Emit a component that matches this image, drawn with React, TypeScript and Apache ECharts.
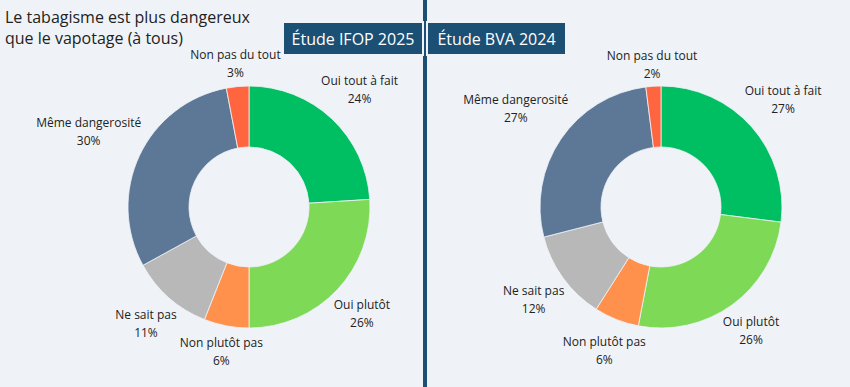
import React, { useEffect, useRef } from 'react';
import * as echarts from 'echarts';

const categories = ['Oui tout à fait', 'Oui plutôt', 'Non plutôt pas', 'Ne sait pas', 'Même dangerosité', 'Non pas du tout'];
const ifop2025 = [24, 26, 6, 11, 30, 3];
const bva2024 = [27, 26, 6, 12, 27, 2];
const sliceColors = ['#00bf63', '#7ed957', '#ff914d', '#b8b8b8', '#5d7896', '#ff6640'];
const studyTitles = ['Étude IFOP 2025', 'Étude BVA 2024'];
const chartTitle = 'Le tabagisme est plus dangereux\nque le vapotage (à tous)';

const BG = '#eff3f8';
const NAVY = '#1c4f74';
const FONT = '"Open Sans", "Noto Sans", sans-serif';

const labelLayout = (p: any) => {
  const pts = p.labelLinePoints;
  if (!pts || pts.length < 2) return {};
  const [x0, y0] = pts[0];
  const [x1, y1] = pts[1];
  let dx = x1 - x0;
  let dy = y1 - y0;
  const len = Math.hypot(dx, dy) || 1;
  dx /= len;
  dy /= len;
  const hw = p.labelRect.width / 2;
  const hh = p.labelRect.height / 2;
  const d = 1 + hw * Math.abs(dx) + hh * Math.abs(dy);
  return { x: x0 + dx * d, y: y0 + dy * d, align: 'center', verticalAlign: 'middle' };
};

const makeSeries = (values: number[], center: [number, number]) => ({
  type: 'pie',
  center,
  radius: [60, 121],
  startAngle: 90,
  clockwise: true,
  avoidLabelOverlap: false,
  silent: true,
  data: categories.map((name, i) => ({ name, value: values[i], itemStyle: { color: sliceColors[i] } })),
  itemStyle: { borderColor: BG, borderWidth: 0.8 },
  label: {
    show: true,
    position: 'outside',
    formatter: '{b}\n{c}%',
    fontFamily: FONT,
    fontSize: 12,
    color: '#222',
    lineHeight: 18,
  },
  labelLine: { show: true, length: 10, length2: 0, lineStyle: { opacity: 0, width: 0 } },
  labelLayout,
});

export default function App() {
  const ref = useRef<HTMLDivElement>(null);
  useEffect(() => {
    document.body.style.margin = '0';
    if (!ref.current) return;
    const chart = echarts.init(ref.current, null, { renderer: 'svg' });
    chart.setOption({
      animation: false,
      backgroundColor: BG,
      graphic: [
        { type: 'rect', shape: { x: 423, y: 0, width: 4, height: 387 }, style: { fill: NAVY }, z: 1 },
        {
          type: 'rect',
          shape: { x: 283, y: 22, width: 140, height: 33 },
          style: { fill: NAVY, stroke: BG, lineWidth: 2 },
          z: 2,
        },
        {
          type: 'rect',
          shape: { x: 427, y: 22, width: 139, height: 33 },
          style: { fill: NAVY, stroke: BG, lineWidth: 2 },
          z: 2,
        },
        {
          type: 'text',
          x: 353,
          y: 39,
          z: 3,
          style: { text: studyTitles[0], fill: '#fff', font: `16px ${FONT}`, align: 'center', verticalAlign: 'middle' },
        },
        {
          type: 'text',
          x: 496.5,
          y: 39,
          z: 3,
          style: { text: studyTitles[1], fill: '#fff', font: `16px ${FONT}`, align: 'center', verticalAlign: 'middle' },
        },
        {
          type: 'text',
          x: 5,
          y: 6.5,
          z: 3,
          style: { text: chartTitle, fill: '#222', font: `16px ${FONT}`, lineHeight: 21, align: 'left', verticalAlign: 'top' },
        },
      ],
      series: [makeSeries(ifop2025, [249, 207]), makeSeries(bva2024, [661, 207])],
    });
    return () => chart.dispose();
  }, []);
  return <div ref={ref} style={{ width: 850, height: 387 }} />;
}
